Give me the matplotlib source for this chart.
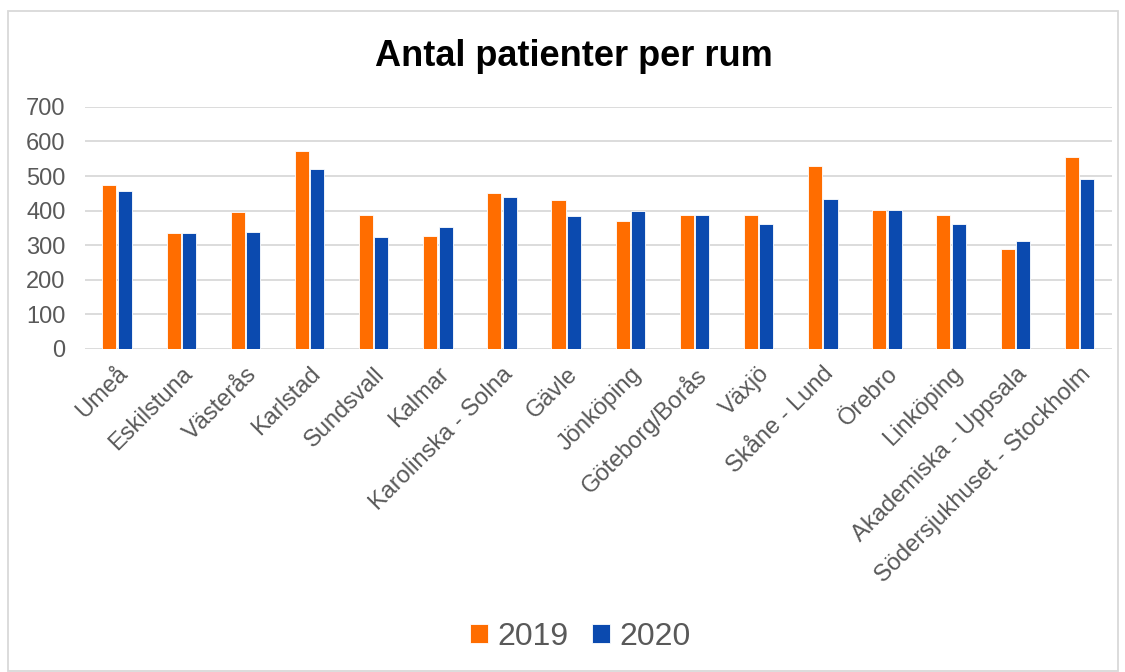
import numpy as np
from matplotlib import pyplot as plt
from matplotlib.patches import Rectangle

plt.rcParams['font.family'] = ['Liberation Sans', 'DejaVu Sans']

sjukhus = ["Umeå", "Eskilstuna", "Västerås", "Karlstad", "Sundsvall", "Kalmar",
           "Karolinska - Solna", "Gävle", "Jönköping", "Göteborg/Borås", "Växjö",
           "Skåne - Lund", "Örebro", "Linköping", "Akademiska - Uppsala",
           "Södersjukhuset - Stockholm"]
v2019 = [473, 335, 395, 572, 386, 327, 450, 431, 371, 386, 386, 528, 401, 386, 290, 555]
v2020 = [458, 335, 339, 520, 323, 353, 438, 383, 398, 386, 361, 434, 401, 361, 312, 491]

fig = plt.figure(figsize=(11.25, 6.72), dpi=100)
# ram runt hela diagrammet
fig.patches.append(Rectangle((0.007, 0.002), 0.987, 0.982, transform=fig.transFigure,
                             fill=False, edgecolor="#d9d9d9", linewidth=1.3))
ax = fig.add_axes([0.0756, 0.4807, 0.9124, 0.3603])

x = np.arange(len(sjukhus))
w = 0.22
ax.bar(x - 0.12, v2019, w, color="#ff6d00", edgecolor="white", linewidth=0.6, label="2019", zorder=3)
ax.bar(x + 0.12, v2020, w, color="#0b4aaf", edgecolor="white", linewidth=0.6, label="2020", zorder=3)

ax.set_ylim(0, 700)
ax.set_xlim(-0.5, len(sjukhus) - 0.5)
ax.set_yticks(range(0, 701, 100))
ax.yaxis.grid(True, color="#d9d9d9", linewidth=1.3, zorder=0)
for s in ax.spines.values():
    s.set_visible(False)
ax.tick_params(axis="both", length=0, labelsize=17, labelcolor="#595959")
ax.tick_params(axis="y", pad=14)
ax.tick_params(axis="x", pad=10)
ax.set_xticks(x)
ax.set_xticklabels(sjukhus, rotation=45, ha="right", rotation_mode="anchor")

fig.text(0.51, 0.916, "Antal patienter per rum", ha="center", va="center",
         fontsize=26, fontweight="bold", color="black")

fig.legend(loc="center", bbox_to_anchor=(0.516, 0.052), ncol=2, frameon=False,
           fontsize=23, handlelength=0.55, handleheight=0.55, handletextpad=0.3,
           columnspacing=0.75, labelcolor="#595959")

plt.savefig("out.png", dpi=100)
